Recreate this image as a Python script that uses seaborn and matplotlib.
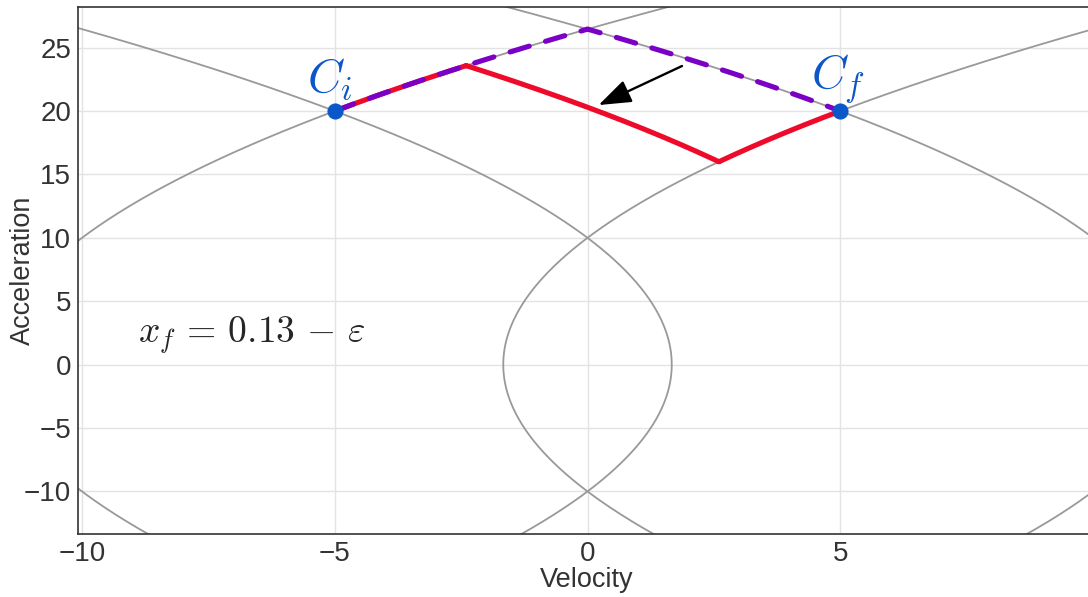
import numpy as np
import pandas as pd
import matplotlib
matplotlib.use("Agg")
import matplotlib.pyplot as plt
import seaborn as sns

# ---- data ----
jerk = 30.0                                   # curvature of the phase-plane parabolas (v = v0 +/- a^2 / (2 jerk))
guide_offsets = [-35/3, -5/3, 5/3, 35/3]      # velocity where each gray curve crosses a = 0
guide_signs = [1, 1, -1, -1]                  # +1 opens right, -1 opens left
guide_a_range = [-14.0, 29.0]

# red trajectory: corner points (velocity, acceleration) and arc direction between them
red_v = [-5.0, -2.4, 2.6, 5.0]
red_a = [20.0, 23.58, 16.0, 20.0]
red_signs = [1, -1, 1]

# purple dashed trajectory
purple_v = [-5.0, 0.0, 5.0]
purple_a = [20.0, 26.46, 20.0]
purple_signs = [1, -1]

point_v = [-5.0, 5.0]
point_a = [20.0, 20.0]
point_labels = [r"$C_i$", r"$C_f$"]
label_pos = [(-5.1, 22.5), (4.96, 22.5)]

arrow_tail = (1.87, 23.55)
arrow_head = (0.22, 20.47)
annot_text = r"$x_f\,=\,0.13\,-\,\varepsilon$"
annot_pos = (-8.89, 2.33)

xticks = [-10, -5, 0, 5]
yticks = [-10, -5, 0, 5, 10, 15, 20, 25]

# ---- styling ----
sns.set_theme(style="whitegrid")
plt.rcParams["font.family"] = ["Liberation Sans", "DejaVu Sans"]
plt.rcParams["mathtext.fontset"] = "cm"
plt.rcParams["axes.unicode_minus"] = True

GRAY = "#999999"
RED = "#ee0a2a"
PURPLE = "#7a00c6"
BLUE = "#0b57c9"

fig = plt.figure(figsize=(10.88, 5.97), dpi=100)
ax = fig.add_axes([78/1088, 1 - 534.3/597, 1019/1088, 527/597])


def arc(v0, a0, a1, sign, n=120):
    a = np.linspace(a0, a1, n)
    v = v0 + sign * (a**2 - a0**2) / (2 * jerk)
    return v, a


# gray guide curves
rows = []
for i, (off, s) in enumerate(zip(guide_offsets, guide_signs)):
    a = np.linspace(guide_a_range[0], guide_a_range[1], 400)
    v = off + s * a**2 / (2 * jerk)
    rows.append(pd.DataFrame({"v": v, "a": a, "curve": i}))
guides = pd.concat(rows)
sns.lineplot(data=guides, x="v", y="a", units="curve", estimator=None, sort=False,
             color=GRAY, linewidth=1.3, ax=ax)


def path_df(vs, as_, signs):
    pv, pa = [], []
    for k, s in enumerate(signs):
        v, a = arc(vs[k], as_[k], as_[k + 1], s)
        pv.append(v)
        pa.append(a)
    return pd.DataFrame({"v": np.concatenate(pv), "a": np.concatenate(pa)})


red = path_df(red_v, red_a, red_signs)
sns.lineplot(data=red, x="v", y="a", sort=False, estimator=None, color=RED,
             linewidth=3.7, ax=ax)

purple = path_df(purple_v, purple_a, purple_signs)
ax.plot(purple["v"], purple["a"], color=PURPLE, linewidth=3.7,
        dashes=(3.9, 3.3), dash_capstyle="round")

sns.scatterplot(x=point_v, y=point_a, color=BLUE, s=135, edgecolor=BLUE,
                linewidth=0, zorder=5, ax=ax)
for lab, (x, y) in zip(point_labels, label_pos):
    ax.text(x, y, lab, color=BLUE, fontsize=34, ha="center", va="center")

ax.annotate("", xy=arrow_head, xytext=arrow_tail,
            arrowprops=dict(arrowstyle="-|>,head_length=1.0,head_width=0.36",
                            mutation_scale=20, color="black", lw=1.7,
                            shrinkA=0, shrinkB=0))
ax.text(annot_pos[0], annot_pos[1], annot_text, fontsize=27, ha="left", va="center")

ax.set_xlim(-10.08, 10.08)
ax.set_ylim(-13.38, 28.18)
ax.set_xticks(xticks)
ax.set_yticks(yticks)
ax.tick_params(length=0, pad=5, labelsize=20, colors="#333333")
ax.set_xlabel("Velocity", fontsize=19.5, color="#333333")
ax.set_ylabel("Acceleration", fontsize=19.5, color="#333333")
ax.xaxis.set_label_coords(0.4995, -0.062)
ax.yaxis.set_label_coords(-0.041, 0.5)
ax.grid(True, color="#e3e3e3", linewidth=1.0)
for sp in ax.spines.values():
    sp.set_color("#333333")
    sp.set_linewidth(1.2)

fig.savefig("out.png", dpi=100)
